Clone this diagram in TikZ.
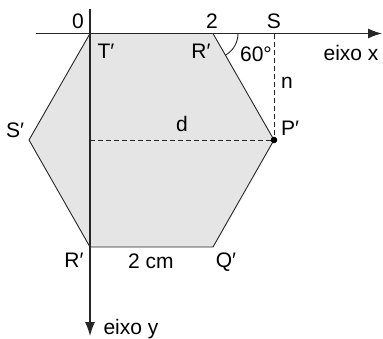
\documentclass[tikz,border=0pt]{standalone}
\usepackage{fontspec}
\setmainfont{Liberation Sans}
\usetikzlibrary{arrows.meta}
\begin{document}
\begin{tikzpicture}[x=1pt,y=-1pt,
  lbl/.style={inner sep=0pt,anchor=base,font=\fontsize{21}{25}\selectfont},
  axis/.style={line width=1.2pt,draw=black!85,-{Latex[length=14pt,width=10pt]}},
  edge/.style={line width=0.9pt,draw=black!85},
  guide/.style={line width=0.9pt,dash pattern=on 5pt off 3pt,draw=black!85}]
\useasboundingbox (0,0) rectangle (383,338);
% vertices
\coordinate (T) at (90,33.5);
\coordinate (R) at (213,33.5);
\coordinate (P) at (274,140);
\coordinate (Q) at (213,247);
\coordinate (Rb) at (90,247);
\coordinate (Sp) at (29,140);
\coordinate (S) at (274,33.5);
\coordinate (Py) at (90,140);
\coordinate (xs) at (36,33.5);
\coordinate (xe) at (382,33.5);
\coordinate (ys) at (90,9);
\coordinate (ye) at (90,336);
% hexagon
\fill[fill=black!10] (T) -- (R) -- (P) -- (Q) -- (Rb) -- (Sp) -- cycle;
\draw[edge] (T) -- (R) -- (P) -- (Q) -- (Rb) -- (Sp) -- cycle;
% guides
\draw[guide] (S) -- (P);
\draw[guide] (Py) -- (P);
% axes
\draw[axis] (xs) -- (xe);
\draw[axis] (ys) -- (ye);
% angle arc
\draw[edge] ([xshift=25pt]R) arc[start angle=0,end angle=-60,radius=25pt];
\fill[black] (P) circle[radius=3.3pt];
% labels
\node[lbl] (l0) at (78,28) {0};
\node[lbl] (l2) at (212,28) {2};
\node[lbl] (lS) at (274,28) {S};
\node[lbl] (lT) at (106,58) {T′};
\node[lbl] (lR) at (201,58) {R′};
\node[lbl] (la) at (256,61) {60°};
\node[lbl] (lx) at (351,60) {eixo x};
\node[lbl] (ln) at (287,88) {n};
\node[lbl] (ld) at (182,131) {d};
\node[lbl] (lSp) at (15,137) {S′};
\node[lbl] (lP) at (290,135) {P′};
\node[lbl] (lRb) at (74,267) {R′};
\node[lbl] (lc) at (151,268) {2 cm};
\node[lbl] (lQ) at (226,267) {Q′};
\node[lbl] (ly) at (131,334) {eixo y};
\end{tikzpicture}
\end{document}
